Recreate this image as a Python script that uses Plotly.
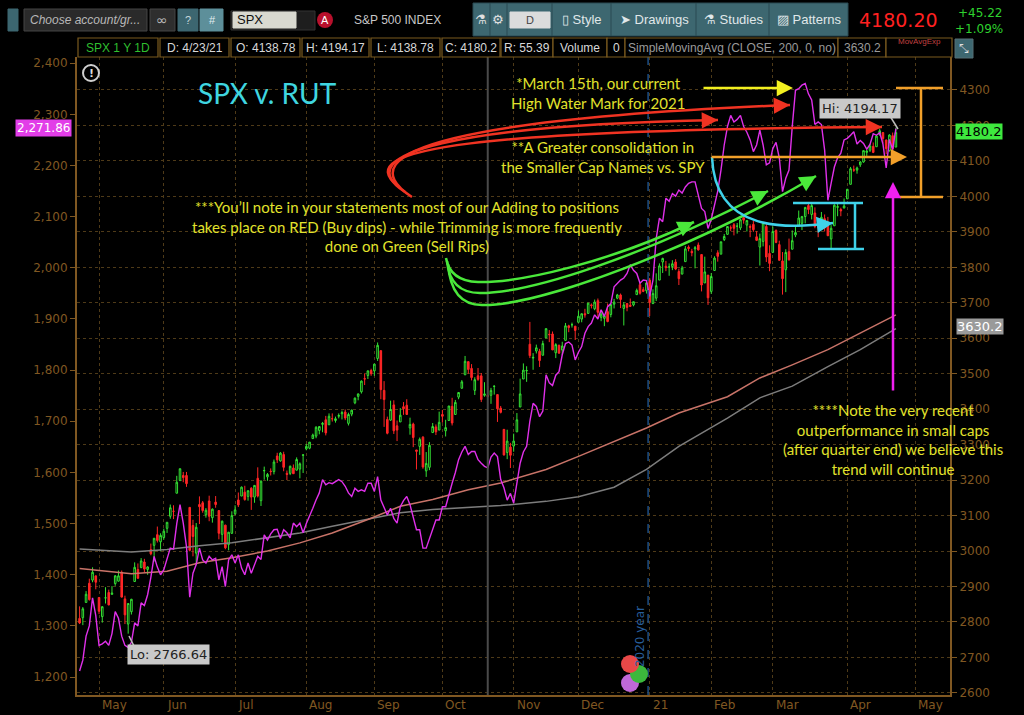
import plotly.graph_objects as go

# S&P 500 (SPX) daily candles, 4/23/2020 - 4/23/2021, one row per month
spx_open = [
    2810, 2812, 2855, 2909, 2918, 2930,
    2869, 2815, 2868, 2883, 2878, 2908, 2915, 2940, 2865, 2794, 2829, 2914, 2948, 2953, 2969, 2948, 3004, 3016, 3046, 3026,
    3038, 3064, 3098, 3112, 3163, 3199, 3213, 3213, 3123, 3072, 2994, 3131, 3136, 3102, 3141, 3094, 3138, 3114, 3047, 3073, 3018, 3050,
    3105, 3144, 3155, 3166, 3154, 3177, 3152, 3205, 3142, 3226, 3209, 3225, 3224, 3268, 3254, 3272, 3219, 3219, 3234, 3228, 3231, 3270,
    3288, 3290, 3317, 3324, 3340, 3357, 3370, 3356, 3373, 3368, 3380, 3387, 3392, 3360, 3386, 3418, 3436, 3449, 3486, 3495, 3509,
    3508, 3543, 3565, 3453, 3371, 3369, 3412, 3353, 3364, 3407, 3411, 3347, 3358, 3285, 3295, 3321, 3226, 3236, 3334, 3350, 3341,
    3385, 3339, 3368, 3408, 3385, 3434, 3459, 3497, 3534, 3515, 3453, 3494, 3494, 3439, 3439, 3439, 3464, 3441, 3403, 3343, 3278, 3293,
    3296, 3336, 3406, 3485, 3508, 3583, 3544, 3564, 3563, 3552, 3601, 3611, 3612, 3559, 3580, 3567, 3594, 3635, 3638, 3634,
    3645, 3654, 3669, 3670, 3694, 3683, 3706, 3659, 3656, 3675, 3667, 3696, 3713, 3722, 3684, 3698, 3693, 3694, 3723, 3751, 3737, 3734,
    3764, 3698, 3713, 3764, 3815, 3803, 3801, 3802, 3815, 3788, 3781, 3816, 3857, 3845, 3852, 3863, 3836, 3756, 3778,
    3732, 3791, 3841, 3837, 3878, 3893, 3911, 3920, 3916, 3911, 3940, 3919, 3915, 3921, 3886, 3857, 3873, 3915, 3839,
    3842, 3904, 3864, 3818, 3793, 3844, 3851, 3891, 3916, 3924, 3943, 3974, 3949, 3953, 3913, 3917, 3937, 3919, 3880, 3917, 3969, 3963, 3967,
    3993, 4034, 4075, 4074, 4089, 4097, 4124, 4130, 4141, 4140, 4175, 4180, 4159, 4129, 4171, 4139,
]
spx_high = [
    2844, 2842, 2887, 2922, 2954, 2930,
    2869, 2844, 2898, 2891, 2901, 2932, 2945, 2945, 2874, 2852, 2865, 2968, 2965, 2980, 2978, 2957, 3021, 3036, 3069, 3050,
    3063, 3081, 3131, 3129, 3212, 3233, 3223, 3223, 3123, 3088, 3079, 3154, 3141, 3121, 3156, 3120, 3155, 3115, 3086, 3074, 3054, 3112,
    3129, 3165, 3182, 3184, 3171, 3180, 3186, 3236, 3199, 3238, 3220, 3233, 3258, 3277, 3279, 3280, 3227, 3241, 3244, 3264, 3250, 3272,
    3302, 3307, 3331, 3352, 3352, 3364, 3381, 3388, 3388, 3379, 3388, 3396, 3399, 3390, 3399, 3433, 3444, 3481, 3501, 3509, 3514,
    3528, 3588, 3565, 3479, 3379, 3424, 3425, 3368, 3403, 3420, 3428, 3376, 3362, 3285, 3320, 3324, 3279, 3307, 3361, 3357, 3393,
    3398, 3370, 3409, 3432, 3426, 3447, 3482, 3550, 3534, 3527, 3490, 3516, 3502, 3476, 3465, 3460, 3466, 3441, 3409, 3343, 3342, 3305,
    3331, 3389, 3486, 3529, 3521, 3646, 3558, 3582, 3570, 3593, 3628, 3623, 3619, 3586, 3582, 3590, 3643, 3638, 3644, 3634,
    3678, 3670, 3683, 3699, 3698, 3709, 3712, 3678, 3665, 3698, 3696, 3711, 3725, 3726, 3702, 3698, 3712, 3703, 3740, 3756, 3744, 3760,
    3770, 3738, 3783, 3811, 3827, 3818, 3811, 3820, 3823, 3796, 3804, 3860, 3862, 3852, 3860, 3870, 3836, 3830, 3778,
    3784, 3831, 3848, 3872, 3894, 3916, 3918, 3925, 3925, 3937, 3950, 3933, 3921, 3931, 3902, 3895, 3928, 3925, 3862,
    3915, 3907, 3875, 3843, 3851, 3881, 3904, 3918, 3960, 3945, 3970, 3982, 3983, 3969, 3919, 3956, 3949, 3942, 3919, 3978, 3981, 3968, 3994,
    4021, 4083, 4087, 4084, 4099, 4129, 4131, 4148, 4152, 4173, 4191, 4180, 4160, 4175, 4180, 4194,
]
spx_low = [
    2794, 2791, 2855, 2860, 2912, 2892,
    2822, 2798, 2852, 2847, 2876, 2902, 2914, 2869, 2794, 2767, 2821, 2914, 2922, 2953, 2939, 2933, 2988, 2970, 3024, 2999,
    3032, 3051, 3091, 3090, 3163, 3197, 3194, 3181, 2999, 2985, 2966, 3076, 3108, 3094, 3084, 3080, 3122, 3033, 3025, 3005, 3002, 3048,
    3101, 3124, 3155, 3142, 3142, 3116, 3136, 3151, 3127, 3201, 3198, 3213, 3216, 3248, 3252, 3225, 3200, 3214, 3218, 3227, 3205, 3220,
    3284, 3287, 3317, 3318, 3329, 3335, 3326, 3356, 3365, 3362, 3374, 3371, 3369, 3354, 3380, 3414, 3425, 3444, 3468, 3485, 3494,
    3494, 3536, 3428, 3350, 3329, 3367, 3330, 3310, 3364, 3384, 3384, 3328, 3293, 3230, 3271, 3232, 3209, 3228, 3334, 3327, 3341,
    3362, 3323, 3368, 3354, 3385, 3428, 3458, 3496, 3500, 3481, 3440, 3480, 3420, 3435, 3432, 3415, 3441, 3364, 3388, 3269, 3259, 3234,
    3280, 3336, 3406, 3485, 3477, 3544, 3511, 3557, 3519, 3552, 3601, 3589, 3567, 3544, 3556, 3553, 3594, 3617, 3630, 3595,
    3645, 3645, 3658, 3670, 3684, 3679, 3660, 3648, 3634, 3645, 3659, 3684, 3710, 3685, 3636, 3676, 3689, 3690, 3723, 3723, 3730, 3726,
    3663, 3696, 3705, 3764, 3784, 3789, 3776, 3792, 3792, 3750, 3780, 3816, 3845, 3831, 3797, 3847, 3732, 3756, 3694,
    3725, 3791, 3816, 3837, 3874, 3892, 3902, 3890, 3895, 3905, 3923, 3901, 3885, 3900, 3874, 3805, 3859, 3815, 3789,
    3842, 3868, 3818, 3723, 3730, 3819, 3851, 3885, 3916, 3905, 3924, 3950, 3935, 3910, 3885, 3917, 3901, 3889, 3853, 3917, 3944, 3944, 3967,
    3993, 4034, 4069, 4064, 4083, 4095, 4114, 4125, 4122, 4140, 4171, 4150, 4119, 4126, 4128, 4139,
]
spx_close = [
    2797, 2837, 2878, 2863, 2940, 2912,
    2830, 2843, 2868, 2848, 2881, 2930, 2930, 2870, 2820, 2852, 2864, 2954, 2923, 2972, 2949, 2955, 2992, 3036, 3030, 3044,
    3056, 3081, 3122, 3112, 3194, 3232, 3207, 3190, 3002, 3041, 3067, 3125, 3114, 3115, 3098, 3118, 3131, 3050, 3084, 3009, 3053, 3100,
    3116, 3130, 3180, 3145, 3170, 3152, 3185, 3155, 3197, 3227, 3216, 3224, 3251, 3257, 3276, 3236, 3216, 3239, 3218, 3258, 3246, 3271,
    3295, 3307, 3327, 3349, 3351, 3360, 3333, 3380, 3373, 3373, 3382, 3390, 3375, 3385, 3397, 3431, 3443, 3479, 3485, 3508, 3500,
    3527, 3580, 3455, 3427, 3332, 3399, 3339, 3341, 3383, 3401, 3385, 3357, 3320, 3281, 3315, 3237, 3247, 3298, 3351, 3336, 3363,
    3380, 3348, 3409, 3361, 3419, 3447, 3477, 3535, 3512, 3489, 3483, 3484, 3427, 3443, 3436, 3453, 3465, 3401, 3391, 3271, 3310, 3270,
    3310, 3370, 3443, 3510, 3509, 3551, 3546, 3573, 3537, 3585, 3627, 3610, 3567, 3582, 3558, 3578, 3635, 3630, 3638, 3622,
    3662, 3669, 3666, 3699, 3692, 3702, 3673, 3668, 3663, 3647, 3695, 3702, 3722, 3709, 3694, 3687, 3690, 3703, 3735, 3727, 3732, 3756,
    3701, 3726, 3748, 3804, 3825, 3799, 3801, 3810, 3795, 3768, 3798, 3852, 3853, 3841, 3855, 3849, 3750, 3787, 3714,
    3774, 3826, 3831, 3872, 3887, 3915, 3911, 3910, 3916, 3934, 3933, 3932, 3913, 3906, 3876, 3881, 3925, 3829, 3811,
    3901, 3870, 3820, 3768, 3842, 3821, 3875, 3898, 3939, 3943, 3969, 3963, 3974, 3915, 3913, 3941, 3911, 3889, 3910, 3975, 3971, 3959, 3973,
    4020, 4078, 4074, 4080, 4097, 4129, 4128, 4142, 4124, 4170, 4185, 4163, 4135, 4173, 4135, 4180,
]
# Russell 2000 (RUT) daily close, same days
rut_close = [
    1212, 1233, 1280, 1300, 1355, 1320,
    1262, 1265, 1270, 1262, 1285, 1328, 1315, 1280, 1262, 1258, 1268, 1306, 1300, 1345, 1340, 1361, 1395, 1436, 1415, 1400,
    1410, 1432, 1452, 1450, 1500, 1537, 1501, 1455, 1356, 1403, 1420, 1452, 1429, 1423, 1436, 1429, 1432, 1390, 1416, 1377, 1429, 1439,
    1423, 1439, 1413, 1400, 1423, 1403, 1420, 1436, 1430, 1478, 1468, 1480, 1488, 1489, 1471, 1488, 1482, 1472, 1501, 1494, 1501, 1482,
    1500, 1514, 1530, 1546, 1560, 1586, 1576, 1580, 1578, 1582, 1586, 1582, 1573, 1560, 1553, 1569, 1563, 1566, 1563, 1579, 1579,
    1563, 1592, 1546, 1530, 1517, 1530, 1510, 1501, 1533, 1545, 1553, 1537, 1510, 1488, 1488, 1452, 1452, 1470, 1488, 1507, 1507,
    1533, 1533, 1559, 1579, 1600, 1625, 1640, 1651, 1635, 1641, 1641, 1625, 1618, 1612, 1609, 1630, 1638, 1631, 1586, 1570, 1546, 1559,
    1540, 1582, 1618, 1640, 1651, 1700, 1735, 1729, 1709, 1720, 1791, 1775, 1770, 1790, 1797, 1830, 1852, 1855, 1849, 1820,
    1835, 1846, 1872, 1885, 1892, 1908, 1900, 1918, 1905, 1924, 1930, 1963, 1970, 1976, 1980, 1989, 2006, 1995, 1989, 1970, 1976, 1975,
    1944, 1976, 2057, 2097, 2090, 2136, 2130, 2145, 2140, 2152, 2146, 2158, 2165, 2168, 2168, 2140, 2116, 2110, 2077,
    2095, 2126, 2150, 2191, 2240, 2276, 2298, 2285, 2290, 2298, 2276, 2265, 2250, 2227, 2240, 2269, 2240, 2201, 2205,
    2233, 2245, 2215, 2149, 2175, 2191, 2276, 2347, 2350, 2357, 2360, 2340, 2328, 2280, 2285, 2280, 2230, 2132, 2165, 2197, 2215, 2224, 2250,
    2253, 2259, 2266, 2242, 2249, 2243, 2232, 2241, 2262, 2259, 2264, 2242, 2195, 2251, 2231, 2272,
]
ma_day = [0, 16, 27, 37, 47, 58, 68, 78, 89, 99, 109, 120, 130, 144, 154, 165, 175, 185, 200, 210, 220, 231, 241, 252]
spx_sma200 = [3006, 2997, 3004, 3015, 3023, 3037, 3051, 3070, 3089, 3108, 3117, 3122, 3128, 3140, 3153, 3180, 3230, 3295,
              3375, 3432, 3465, 3520, 3568, 3627]
red_ma = [2951, 2936, 2943, 2967, 2981, 3000, 3023, 3051, 3089, 3126, 3145, 3173, 3192, 3230, 3267, 3310, 3347, 3389,
          3435, 3488, 3525, 3568, 3615, 3666]

# trading days per month in the window (Apr'20 ... Apr'21) and the month tick labels
month_days = [6, 20, 22, 22, 21, 21, 22, 20, 22, 19, 19, 23, 16]
month_labels = ["May", "Jun", "Jul", "Aug", "Sep", "Oct", "Nov", "Dec", "21", "Feb", "Mar", "Apr", "May"]
days_left_in_april = 5
marker_day = 126

spx_ticks = list(range(2600, 4400, 100))
rut_ticks = list(range(1200, 2500, 100))

days = list(range(len(spx_close)))
month_start = []
s = 0
for d in month_days:
    s += d
    month_start.append(s)
tick_days = month_start[:-1] + [month_start[-1] + days_left_in_april]
year_line = month_start[8] - 0.5

# pixel frame of the plot area (for drawn notes)
L, R, T, B = 77, 950, 57, 695
def px(x):
    return (x - L) / (R - L)
def py(y):
    return (B - y) / (B - T)

BROWN = "rgb(128,88,34)"
YEL = "#e2e22c"
UI = "Liberation Sans"
shapes = []
annotations = []

def note(x, y, text, size=15, color=YEL, family="Lato", **kw):
    kw.setdefault("xanchor", "center")
    kw.setdefault("yanchor", "middle")
    annotations.append(dict(x=px(x), y=py(y), xref="paper", yref="paper", text=text, showarrow=False,
                            font=dict(family=family, size=size, color=color), **kw))

def line(x0, y0, x1, y1, color, width=2.5, dash=None):
    shapes.append(dict(type="line", xref="paper", yref="paper", x0=px(x0), y0=py(y0), x1=px(x1), y1=py(y1),
                       line=dict(color=color, width=width, dash=dash)))

def rect(x0, y0, x1, y1, fill, border=None, width=1):
    shapes.append(dict(type="rect", xref="paper", yref="paper", x0=px(x0), y0=py(y0), x1=px(x1), y1=py(y1),
                       fillcolor=fill, line=dict(color=border or fill, width=width), layer="above"))

def head(tip, back, color, width):
    dx, dy = tip[0] - back[0], tip[1] - back[1]
    n = (dx * dx + dy * dy) ** 0.5
    annotations.append(dict(x=px(tip[0]), y=py(tip[1]), xref="paper", yref="paper", text="", showarrow=True,
                            ax=-dx / n * 10, ay=-dy / n * 10, arrowhead=2, arrowsize=1.3,
                            arrowwidth=width, arrowcolor=color))

def curve(segs, color, width=2.5):
    p = ""
    for cmd, pts in segs:
        p += cmd + " " + " ".join("{:.5f},{:.5f}".format(px(a), py(b)) for a, b in pts) + " "
    shapes.append(dict(type="path", xref="paper", yref="paper", path=p.strip(),
                       line=dict(color=color, width=width)))
    last = segs[-1][1]
    head(last[-1], last[-2] if len(last) > 1 else segs[-2][1][-1], color, width)

def arrow(tail, tip, color, width=2.5):
    annotations.append(dict(x=px(tip[0]), y=py(tip[1]), xref="paper", yref="paper", text="", showarrow=True,
                            ax=tail[0] - tip[0], ay=tail[1] - tip[1], arrowhead=2, arrowsize=1.3,
                            arrowwidth=width, arrowcolor=color))

fig = go.Figure()
fig.add_trace(go.Scatter(x=ma_day, y=spx_sma200, mode="lines", line=dict(color="#7d7d7d", width=1.5), yaxis="y"))
fig.add_trace(go.Scatter(x=ma_day, y=red_ma, mode="lines", line=dict(color="#c87368", width=1.5), yaxis="y"))
fig.add_trace(go.Candlestick(x=days, open=spx_open, high=spx_high, low=spx_low, close=spx_close, yaxis="y",
                             whiskerwidth=0,
                             increasing=dict(line=dict(color="#34e234", width=1), fillcolor="#000000"),
                             decreasing=dict(line=dict(color="#ff2626", width=1), fillcolor="#ff2626")))
fig.add_trace(go.Scatter(x=days, y=rut_close, mode="lines", line=dict(color="#e030ea", width=1.4), yaxis="y2"))

# vertical markers
shapes.append(dict(type="line", xref="x", yref="paper", x0=marker_day, x1=marker_day, y0=0, y1=1,
                   line=dict(color="#4a4a4a", width=2)))
shapes.append(dict(type="line", xref="x", yref="paper", x0=year_line, x1=year_line, y0=0, y1=1,
                   line=dict(color="#1d4f86", width=1.5, dash="dash")))
annotations.append(dict(x=year_line, xref="x", xshift=-8, y=py(637), yref="paper", text="2020 year",
                        xanchor="center", yanchor="middle",
                        textangle=-90, showarrow=False, font=dict(family="DejaVu Sans", size=12, color="#275d9a")))
for cx, cy, c in [(630, 683, "#c068d8"), (639, 674, "#3cb83c"), (630, 664, "#e84848")]:
    shapes.append(dict(type="circle", xref="paper", yref="paper", x0=px(cx - 9), x1=px(cx + 9),
                       y0=py(cy + 9), y1=py(cy - 9), fillcolor=c, line=dict(width=0), layer="above"))

# month labels, left aligned on their grid lines
for d, lab in zip(tick_days, month_labels):
    annotations.append(dict(x=d, xref="x", y=0, yref="paper", yanchor="top", xanchor="left", xshift=1, yshift=-1,
                            text=lab, showarrow=False, font=dict(family="DejaVu Sans", size=12, color=BROWN)))

# header toolbar
rect(-5, 0, 1030, 37, "#000000")
rect(8, 9, 18, 31, "#3c6670")
rect(24, 9, 147, 31, "#2a2a2a", "#444444")
note(28, 20, "<i>Choose account/gr...</i>", 12, "#b8b8b8", UI, xanchor="left")
rect(150, 9, 175, 31, "#2e2e2e", "#444444")
note(162, 20, "∞", 14, "#bbbbbb", "DejaVu Sans")
rect(178, 9, 198, 31, "#3c6670")
note(188, 20, "?", 11, "#c8d8dc", UI)
rect(200, 9, 223, 31, "#5d8f9a")
note(212, 20, "#", 11, "#e0eef0", UI)
rect(231, 11, 315, 30, "#1e1e1e", "#333333")
rect(233, 12, 296, 28, "#d9d9d0")
note(235, 20, "SPX", 13, "#111111", UI, xanchor="left")
shapes.append(dict(type="circle", xref="paper", yref="paper", x0=px(317), x1=px(333), y0=py(28), y1=py(12),
                   fillcolor="#b8102c", line=dict(width=0), layer="above"))
note(325, 20, "A", 11, "#ffffff", UI)
note(352, 20, "S&P 500 INDEX", 12, "#c8c8c8", UI, xanchor="left")
rect(473, 3, 848, 36, "#3d6770", "#2a4a52")
for xs in [490, 507, 552, 611, 696, 769]:
    line(xs, 3, xs, 36, "#2a4a52", 1)
note(481, 20, "⚗", 13, "#e0e0e0", "DejaVu Sans")
note(498, 20, "⚙", 13, "#e0e0e0", "DejaVu Sans")
rect(510, 12, 550, 28, "#dcdcdc")
note(530, 20, "D", 11, "#444444", UI)
note(582, 20, "▯ Style", 13, "#e0e8ea", UI)
note(654, 20, "➤ Drawings", 13, "#e0e8ea", UI)
note(733, 20, "⚗ Studies", 13, "#e0e8ea", UI)
note(809, 20, "▨ Patterns", 13, "#e0e8ea", UI)
note(857, 20, "4180.20", 19, "#ff2020", "DejaVu Sans", xanchor="left")
note(1004, 13, "+45.22", 12, "#2ed02e", "DejaVu Sans", xanchor="right")
note(1005, 29, "+1.09%", 12, "#2ed02e", "DejaVu Sans", xanchor="right")

# study / price info row
info = [(78, 158, "SPX 1 Y 1D", "#2fbf2f"), (160, 229, "D: 4/23/21", "#d8d8d8"), (231, 300, "O: 4138.78", "#d8d8d8"),
        (302, 369, "H: 4194.17", "#d8d8d8"), (371, 440, "L: 4138.78", "#d8d8d8"), (442, 500, "C: 4180.2", "#d8d8d8"),
        (501, 553, "R: 55.39", "#d8d8d8"), (553, 607, "Volume", "#d8d8d8"), (607, 625, "0", "#d8d8d8"),
        (625, 838, "SimpleMovingAvg (CLOSE, 200, 0, no)", "#9a9a9a"), (838, 886, "3630.2", "#9a9a9a"),
        (886, 952, "", "#d8d8d8")]
for x0, x1, txt, col in info:
    rect(x0, 38, x1, 57, "#000000", "#7a5a1e", 1.2)
    if txt:
        note((x0 + x1) / 2, 48, txt, 12, col, UI)
note(919, 41, "MovAvgExp", 8, "#c04040", UI)
rect(955, 39, 973, 58, "#3d6770", "#556f75")
note(964, 49, "⤡", 12, "#e0e0e0", "DejaVu Sans")

# price bubbles
note(43, 128, "2,271.86", 12, "#ffffff", "DejaVu Sans", bgcolor="#e23de8", borderpad=1)
note(979, 131, "4180.2", 13, "#000000", "DejaVu Sans", bgcolor="#3ee83e", borderpad=0)
note(980, 326, "3630.2", 13, "#ffffff", "DejaVu Sans", bgcolor="#9a9a9a", borderpad=0)
line(890, 116, 898, 129, "#bdbdbd", 1.5)
note(860, 108, "Hi: 4194.17", 13, "#222222", "DejaVu Sans", bgcolor="#c9c9c9", borderpad=2)
line(134, 646, 129, 636, "#bdbdbd", 1.5)
note(168, 654, "Lo: 2766.64", 13, "#222222", "DejaVu Sans", bgcolor="#c9c9c9", borderpad=2)
shapes.append(dict(type="circle", xref="paper", yref="paper", x0=px(83), x1=px(99), y0=py(81), y1=py(65),
                   fillcolor="#000000", line=dict(color="#cfcfcf", width=2), layer="above"))
note(91, 73, "<b>!</b>", 11, "#dddddd", "DejaVu Sans")

# text notes
note(196, 93, "SPX v. RUT", 28, "#3fd6e0", xanchor="left")
note(598, 93, "*March 15th, our current<br>High Water Mark for 2021")
note(603, 157, "**A Greater consolidation in<br>the Smaller Cap Names vs. SPY")
note(407, 226, "***You’ll note in your statements most of our Adding to positions<br>"
               "takes place on RED (Buy dips) - while Trimming is more frequently<br>done on Green (Sell Rips)")
note(893, 439, "****Note the very recent<br>outperformance in small caps<br>(after quarter end) we believe this<br>trend will continue")

# drawn arrows
RED, GRN, CYN, ORG = "#f03322", "#4ae83a", "#3fd2ea", "#f2a02a"
arrow((702, 88), (793, 88), "#f2f020")
curve([("M", [(412, 197)]), ("C", [(340, 150), (470, 118), (790, 105)])], RED)
curve([("M", [(405, 192)]), ("C", [(345, 153), (460, 125), (718, 120)])], RED)
curve([("M", [(398, 186)]), ("C", [(348, 148), (480, 130), (882, 127)])], RED)
curve([("M", [(446, 258)]), ("Q", [(450, 281), (478, 282)]), ("C", [(520, 283), (610, 262), (694, 222)])], GRN)
curve([("M", [(447, 261)]), ("Q", [(450, 293), (480, 293)]), ("C", [(530, 293), (640, 258), (768, 191)])], GRN)
curve([("M", [(448, 264)]), ("Q", [(451, 305), (482, 305)]), ("C", [(540, 306), (690, 250), (816, 176)])], GRN)
arrow((710, 157), (907, 157), ORG)
line(896, 88, 943, 88, ORG)
line(921, 88, 921, 197, ORG)
line(900, 197, 943, 197, ORG)
curve([("M", [(712, 157)]), ("C", [(715, 235), (790, 228), (833, 223)])], CYN)
line(793, 203, 863, 203, CYN)
line(855, 203, 855, 249, CYN)
line(818, 249, 864, 249, CYN)
arrow((893, 392), (893, 182), "#f020f0")

axis_font = dict(family="DejaVu Sans", size=12, color=BROWN)
fig.update_layout(
    width=1024, height=715,
    margin=dict(l=L, r=1024 - R, t=T, b=715 - B),
    paper_bgcolor="#000000", plot_bgcolor="#000000",
    showlegend=False,
    xaxis=dict(range=[-0.8, 268.7], tickvals=tick_days, showticklabels=False, showgrid=True,
               gridcolor="rgb(78,58,24)", griddash="dot", gridwidth=1, zeroline=False,
               showline=True, linecolor=BROWN, linewidth=2, rangeslider=dict(visible=False), ticks=""),
    yaxis=dict(side="right", range=[2594, 4393], tickvals=spx_ticks, showgrid=True, gridcolor="rgb(78,58,24)",
               griddash="dot", zeroline=False, showline=True, linecolor=BROWN, linewidth=2,
               ticks="outside", ticklen=5, tickcolor=BROWN, tickfont=axis_font),
    yaxis2=dict(side="left", overlaying="y", range=[1165, 2412], tickvals=rut_ticks, tickformat=",",
                showgrid=False, zeroline=False, showline=True, linecolor=BROWN, linewidth=2,
                ticks="outside", ticklen=5, tickcolor=BROWN, tickfont=axis_font),
    shapes=shapes,
    annotations=annotations,
)

fig.write_html("out.html", config={"displayModeBar": False},
               post_script="document.body.style.margin='0px';document.body.style.background='#000';")
